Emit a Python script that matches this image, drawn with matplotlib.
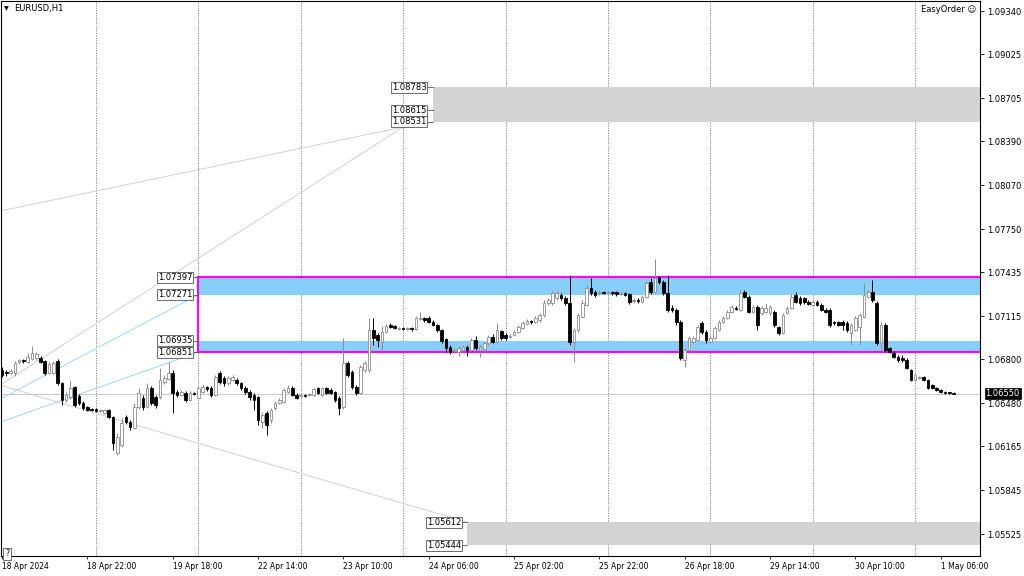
import matplotlib
matplotlib.use("Agg")
import matplotlib.pyplot as plt
from matplotlib.patches import Rectangle
import numpy as np

# ---------------- data (EURUSD H1) ----------------
opens = [
 1.06721, 1.06706, 1.06699, 1.06699, 1.06779, 1.06794, 1.06779, 1.06801, 1.06809, 1.06809,
 1.06787, 1.06699, 1.06699, 1.06787, 1.06626, 1.06502, 1.06524, 1.06597, 1.06531, 1.06480,
 1.06451, 1.06436, 1.06436, 1.06422, 1.06407, 1.06429, 1.06378, 1.06116, 1.06173, 1.06378,
 1.06341, 1.06298, 1.06451, 1.06517, 1.06451, 1.06590, 1.06524, 1.06524, 1.06633, 1.06655,
 1.06699, 1.06560, 1.06538, 1.06553, 1.06502, 1.06553, 1.06517, 1.06560, 1.06597, 1.06590,
 1.06538, 1.06699, 1.06663, 1.06626, 1.06648, 1.06648, 1.06626, 1.06590, 1.06560, 1.06538,
 1.06524, 1.06341, 1.06407, 1.06356, 1.06444, 1.06480, 1.06487, 1.06560, 1.06590, 1.06538,
 1.06531, 1.06538, 1.06538, 1.06538, 1.06590, 1.06538, 1.06590, 1.06575, 1.06560, 1.06517,
 1.06451, 1.06772, 1.06706, 1.06597, 1.06553, 1.06721, 1.06721, 1.07013, 1.06976, 1.06925,
 1.06998, 1.07049, 1.07042, 1.07020, 1.07028, 1.07020, 1.07028, 1.07020, 1.07093, 1.07101,
 1.07101, 1.07071, 1.07049, 1.07013, 1.06947, 1.06889, 1.06860, 1.06852, 1.06867, 1.06889,
 1.06867, 1.06940, 1.06867, 1.06874, 1.06918, 1.06962, 1.06925, 1.07006, 1.06976, 1.06962,
 1.06976, 1.06998, 1.07028, 1.07057, 1.07079, 1.07071, 1.07086, 1.07122, 1.07210, 1.07210,
 1.07247, 1.07268, 1.07247, 1.07210, 1.06925, 1.07013, 1.07108, 1.07195, 1.07320, 1.07290,
 1.07283, 1.07290, 1.07283, 1.07290, 1.07290, 1.07276, 1.07283, 1.07276, 1.07225, 1.07232,
 1.07217, 1.07254, 1.07363, 1.07290, 1.07400, 1.07363, 1.07283, 1.07174, 1.07159, 1.07071,
 1.06794, 1.06867, 1.06925, 1.06940, 1.07064, 1.06998, 1.06925, 1.06955, 1.07013, 1.07071,
 1.07101, 1.07144, 1.07174, 1.07159, 1.07290, 1.07254, 1.07144, 1.07181, 1.07137, 1.07144,
 1.07137, 1.07144, 1.07035, 1.06991, 1.07137, 1.07174, 1.07268, 1.07247, 1.07247, 1.07217,
 1.07195, 1.07217, 1.07195, 1.07159, 1.07159, 1.07071, 1.07071, 1.07071, 1.07064, 1.06991,
 1.07013, 1.07035, 1.07108, 1.07254, 1.07290, 1.07210, 1.06918, 1.07049, 1.06882, 1.06845,
 1.06816, 1.06809, 1.06794, 1.06721, 1.06648, 1.06663, 1.06670, 1.06648, 1.06611, 1.06590,
 1.06575, 1.06560, 1.06560, 1.06553]

highs = [
 1.06743, 1.06721, 1.06728, 1.06787, 1.06801, 1.06801, 1.06845, 1.06896, 1.06852, 1.06823,
 1.06794, 1.06779, 1.06787, 1.06801, 1.06633, 1.06560, 1.06648, 1.06604, 1.06546, 1.06495,
 1.06458, 1.06444, 1.06444, 1.06436, 1.06436, 1.06436, 1.06385, 1.06262, 1.06371, 1.06392,
 1.06356, 1.06480, 1.06590, 1.06538, 1.06626, 1.06604, 1.06538, 1.06736, 1.06684, 1.06779,
 1.06721, 1.06575, 1.06575, 1.06568, 1.06568, 1.06560, 1.06604, 1.06611, 1.06604, 1.06604,
 1.06684, 1.06714, 1.06677, 1.06677, 1.06684, 1.06663, 1.06633, 1.06604, 1.06575, 1.06553,
 1.06531, 1.06414, 1.06422, 1.06444, 1.06495, 1.06517, 1.06590, 1.06611, 1.06604, 1.06553,
 1.06546, 1.06546, 1.06553, 1.06590, 1.06597, 1.06597, 1.06597, 1.06590, 1.06568, 1.06531,
 1.06955, 1.06787, 1.06721, 1.06611, 1.06757, 1.06787, 1.07101, 1.07101, 1.06991, 1.07042,
 1.07057, 1.07064, 1.07049, 1.07035, 1.07035, 1.07035, 1.07035, 1.07115, 1.07144, 1.07108,
 1.07115, 1.07086, 1.07057, 1.07020, 1.06955, 1.06903, 1.06882, 1.06896, 1.06903, 1.06903,
 1.06955, 1.06969, 1.06903, 1.06925, 1.06976, 1.06984, 1.07064, 1.07013, 1.06991, 1.06984,
 1.07013, 1.07049, 1.07079, 1.07093, 1.07086, 1.07115, 1.07137, 1.07232, 1.07247, 1.07298,
 1.07298, 1.07283, 1.07261, 1.07414, 1.07028, 1.07137, 1.07232, 1.07341, 1.07392, 1.07305,
 1.07305, 1.07298, 1.07298, 1.07298, 1.07298, 1.07290, 1.07290, 1.07283, 1.07247, 1.07247,
 1.07268, 1.07371, 1.07392, 1.07531, 1.07407, 1.07378, 1.07414, 1.07195, 1.07174, 1.07086,
 1.06882, 1.06969, 1.06969, 1.07049, 1.07079, 1.07013, 1.06969, 1.07042, 1.07086, 1.07115,
 1.07159, 1.07195, 1.07188, 1.07305, 1.07305, 1.07268, 1.07195, 1.07195, 1.07188, 1.07203,
 1.07195, 1.07159, 1.07042, 1.07137, 1.07188, 1.07276, 1.07290, 1.07261, 1.07254, 1.07232,
 1.07232, 1.07232, 1.07210, 1.07174, 1.07174, 1.07079, 1.07079, 1.07086, 1.07079, 1.07064,
 1.07115, 1.07137, 1.07356, 1.07305, 1.07378, 1.07225, 1.07071, 1.07064, 1.06889, 1.06860,
 1.06830, 1.06830, 1.06809, 1.06728, 1.06692, 1.06677, 1.06677, 1.06655, 1.06619, 1.06597,
 1.06582, 1.06568, 1.06560, 1.06560]

lows = [
 1.06670, 1.06677, 1.06692, 1.06677, 1.06765, 1.06772, 1.06772, 1.06794, 1.06794, 1.06772,
 1.06684, 1.06692, 1.06692, 1.06611, 1.06465, 1.06487, 1.06509, 1.06451, 1.06465, 1.06429,
 1.06422, 1.06422, 1.06414, 1.06414, 1.06400, 1.06371, 1.06138, 1.06101, 1.06160, 1.06327,
 1.06283, 1.06291, 1.06436, 1.06429, 1.06444, 1.06465, 1.06444, 1.06509, 1.06619, 1.06648,
 1.06407, 1.06524, 1.06531, 1.06487, 1.06495, 1.06538, 1.06509, 1.06553, 1.06568, 1.06524,
 1.06531, 1.06619, 1.06604, 1.06611, 1.06641, 1.06611, 1.06575, 1.06546, 1.06502, 1.06429,
 1.06319, 1.06298, 1.06246, 1.06334, 1.06429, 1.06473, 1.06480, 1.06553, 1.06531, 1.06509,
 1.06524, 1.06524, 1.06531, 1.06531, 1.06546, 1.06531, 1.06546, 1.06546, 1.06487, 1.06392,
 1.06436, 1.06670, 1.06582, 1.06538, 1.06546, 1.06706, 1.06706, 1.06903, 1.06889, 1.06867,
 1.06991, 1.07028, 1.07020, 1.07013, 1.07013, 1.07013, 1.07006, 1.07013, 1.07086, 1.07071,
 1.07064, 1.07042, 1.06998, 1.06918, 1.06852, 1.06838, 1.06845, 1.06823, 1.06852, 1.06823,
 1.06860, 1.06867, 1.06816, 1.06852, 1.06903, 1.06918, 1.06918, 1.06940, 1.06940, 1.06955,
 1.06969, 1.06991, 1.07020, 1.07049, 1.07057, 1.07064, 1.07071, 1.07108, 1.07195, 1.07195,
 1.07232, 1.07232, 1.07195, 1.06903, 1.06779, 1.06998, 1.07101, 1.07188, 1.07268, 1.07254,
 1.07268, 1.07276, 1.07276, 1.07268, 1.07261, 1.07268, 1.07261, 1.07203, 1.07210, 1.07210,
 1.07210, 1.07247, 1.07276, 1.07283, 1.07349, 1.07268, 1.07144, 1.07144, 1.07049, 1.06794,
 1.06743, 1.06860, 1.06918, 1.06933, 1.06984, 1.06918, 1.06918, 1.06947, 1.07006, 1.07064,
 1.07093, 1.07137, 1.07159, 1.07152, 1.07247, 1.07137, 1.07137, 1.07013, 1.07122, 1.07137,
 1.07122, 1.07035, 1.06976, 1.06984, 1.07130, 1.07166, 1.07210, 1.07195, 1.07203, 1.07195,
 1.07188, 1.07188, 1.07152, 1.07137, 1.07035, 1.07049, 1.07042, 1.07013, 1.06998, 1.06903,
 1.07006, 1.06903, 1.07101, 1.07247, 1.07217, 1.06903, 1.06867, 1.06852, 1.06845, 1.06809,
 1.06779, 1.06779, 1.06728, 1.06641, 1.06641, 1.06655, 1.06641, 1.06582, 1.06582, 1.06568,
 1.06553, 1.06546, 1.06546, 1.06546]

closes = [
 1.06684, 1.06699, 1.06714, 1.06772, 1.06794, 1.06787, 1.06816, 1.06845, 1.06838, 1.06779,
 1.06699, 1.06765, 1.06772, 1.06626, 1.06502, 1.06538, 1.06590, 1.06465, 1.06480, 1.06444,
 1.06429, 1.06429, 1.06422, 1.06429, 1.06429, 1.06378, 1.06189, 1.06232, 1.06334, 1.06341,
 1.06305, 1.06451, 1.06553, 1.06451, 1.06590, 1.06480, 1.06465, 1.06648, 1.06663, 1.06699,
 1.06553, 1.06538, 1.06560, 1.06502, 1.06553, 1.06546, 1.06590, 1.06597, 1.06582, 1.06538,
 1.06670, 1.06633, 1.06626, 1.06663, 1.06670, 1.06626, 1.06590, 1.06560, 1.06524, 1.06502,
 1.06356, 1.06392, 1.06319, 1.06429, 1.06480, 1.06502, 1.06575, 1.06590, 1.06538, 1.06517,
 1.06538, 1.06531, 1.06546, 1.06582, 1.06553, 1.06590, 1.06553, 1.06553, 1.06502, 1.06444,
 1.06772, 1.06684, 1.06597, 1.06553, 1.06743, 1.06772, 1.07013, 1.06955, 1.06940, 1.06998,
 1.07042, 1.07035, 1.07028, 1.07028, 1.07020, 1.07028, 1.07020, 1.07101, 1.07101, 1.07086,
 1.07071, 1.07049, 1.07013, 1.06933, 1.06882, 1.06852, 1.06867, 1.06882, 1.06889, 1.06867,
 1.06940, 1.06882, 1.06889, 1.06918, 1.06962, 1.06925, 1.07013, 1.06955, 1.06955, 1.06969,
 1.06998, 1.07035, 1.07064, 1.07079, 1.07071, 1.07101, 1.07122, 1.07210, 1.07232, 1.07283,
 1.07283, 1.07247, 1.07210, 1.06925, 1.07013, 1.07122, 1.07210, 1.07320, 1.07283, 1.07268,
 1.07290, 1.07283, 1.07290, 1.07283, 1.07276, 1.07283, 1.07268, 1.07217, 1.07232, 1.07225,
 1.07254, 1.07356, 1.07290, 1.07392, 1.07363, 1.07283, 1.07159, 1.07159, 1.07071, 1.06809,
 1.06867, 1.06955, 1.06955, 1.07035, 1.06998, 1.06940, 1.06955, 1.07028, 1.07071, 1.07101,
 1.07144, 1.07181, 1.07166, 1.07283, 1.07254, 1.07144, 1.07181, 1.07049, 1.07174, 1.07174,
 1.07181, 1.07049, 1.06991, 1.07122, 1.07174, 1.07254, 1.07217, 1.07210, 1.07217, 1.07203,
 1.07217, 1.07195, 1.07159, 1.07144, 1.07049, 1.07064, 1.07049, 1.07049, 1.07013, 1.07049,
 1.07101, 1.07122, 1.07268, 1.07290, 1.07232, 1.06918, 1.07049, 1.06867, 1.06852, 1.06816,
 1.06794, 1.06794, 1.06736, 1.06648, 1.06684, 1.06670, 1.06648, 1.06590, 1.06590, 1.06575,
 1.06560, 1.06553, 1.06553, 1.06550]

time_labels = ["18 Apr 2024", "18 Apr 22:00", "19 Apr 18:00", "22 Apr 14:00",
               "23 Apr 10:00", "24 Apr 06:00", "25 Apr 02:00", "25 Apr 22:00",
               "26 Apr 18:00", "29 Apr 14:00", "30 Apr 10:00", "1 May 06:00"]
label_every = 20
price_ticks = [1.09340, 1.09025, 1.08705, 1.08390, 1.08070, 1.07750, 1.07435,
               1.07115, 1.06800, 1.06480, 1.06165, 1.05845, 1.05525]

zone_upper = [1.07397, 1.07271]       # blue band (top of range)
zone_lower = [1.06935, 1.06851]       # blue band (bottom of range)
gray_upper = [1.08783, 1.08615, 1.08531]
gray_lower = [1.05612, 1.05444]
last_price = 1.06550

# trend lines: (bar index, price) pairs
gray_lines = [((-0.5, 1.07881), (94, 1.08494)),
              ((-0.5, 1.06611), (94, 1.08494)),
              ((-0.5, 1.06611), (109, 1.05612))]
blue_lines = [((-0.5, 1.06509), (46, 1.07271)),
              ((-0.5, 1.06341), (46, 1.06851))]

# ---------------- figure ----------------
plt.rcParams['font.family'] = ['DejaVu Sans']
W, H = 1024, 576
fig = plt.figure(figsize=(W / 100, H / 100), dpi=100)
fig.patch.set_facecolor('white')
ax = fig.add_axes([1 / W, 20 / H, 979 / W, 555 / H])
ax.set_facecolor('white')

n = len(closes)
idx = np.arange(n)
o = np.array(opens); h = np.array(highs); l = np.array(lows); c = np.array(closes)

ax.set_xlim(-0.26, 229.2)
ax.set_ylim(1.05365, 1.09413)

# vertical dotted grid
for g in range(22, n, 24):
    ax.axvline(g, color='#7a7a7a', lw=0.6, ls=(0, (1.5, 1.5)), zorder=0.5)

BIG = 400
# gray zones
ax.add_patch(Rectangle((101, gray_upper[2]), BIG, gray_upper[0] - gray_upper[2],
                       fc='#d3d3d3', ec='none', zorder=1))
ax.add_patch(Rectangle((109, gray_lower[1]), BIG, gray_lower[0] - gray_lower[1],
                       fc='#d3d3d3', ec='none', zorder=1))
# blue zones
ax.add_patch(Rectangle((46, zone_upper[1]), BIG, zone_upper[0] - zone_upper[1],
                       fc='#87cefa', ec='none', zorder=1))
ax.add_patch(Rectangle((46, zone_lower[1]), BIG, zone_lower[0] - zone_lower[1],
                       fc='#87cefa', ec='none', zorder=1))
# magenta range box
ax.add_patch(Rectangle((46, zone_lower[1]), BIG, zone_upper[0] - zone_lower[1],
                       fill=False, ec='#ff00ff', lw=1.5, zorder=2.5))

# trend lines
for (x0, y0), (x1, y1) in gray_lines:
    ax.plot([x0, x1], [y0, y1], color='#d0d0d0', lw=0.7, zorder=1.5)
for (x0, y0), (x1, y1) in blue_lines:
    ax.plot([x0, x1], [y0, y1], color='#9fd4f7', lw=0.7, zorder=1.5)

# last price line
ax.axhline(last_price, color='#c8c8c8', lw=0.7, zorder=1.2)

# candles
bull = c >= o
wick_col = np.where(bull, '#8c8c8c', '#000000')
ax.vlines(idx, l, h, colors=wick_col, lw=0.7, zorder=3)
body_bottom = np.minimum(o, c)
body_h = np.maximum(np.abs(c - o), 0.00004)
ax.bar(idx[bull], body_h[bull], bottom=body_bottom[bull], width=0.62,
       color='white', edgecolor='#8c8c8c', linewidth=0.6, zorder=4)
ax.bar(idx[~bull], body_h[~bull], bottom=body_bottom[~bull], width=0.62,
       color='black', edgecolor='black', linewidth=0.6, zorder=4)

# price labels of objects
def price_label(x_right, x_edge, p):
    ax.plot([x_right, x_edge], [p, p], color='#555555', lw=0.6, zorder=5)
    ax.text(x_right - 0.25, p, f"{p:.5f}", ha='right', va='center', fontsize=6,
            color='black', zorder=6,
            bbox=dict(boxstyle='square,pad=0.12', fc='white', ec='#555555', lw=0.6))

for p in zone_upper + zone_lower:
    price_label(44.8, 46, p)
for p in gray_upper:
    price_label(99.7, 101, p)
for p in gray_lower:
    price_label(107.8, 109, p)

# axes styling
for s in ax.spines.values():
    s.set_color('black'); s.set_linewidth(0.8)
ax.yaxis.tick_right()
ax.set_yticks(price_ticks)
ax.set_yticklabels([f"{p:.5f}" for p in price_ticks])
ax.tick_params(axis='y', direction='out', length=3, width=0.6, pad=2,
               labelsize=6, colors='black')
xt = np.arange(0, label_every * len(time_labels), label_every)
ax.set_xticks(xt)
ax.set_xticklabels(time_labels, ha='left')
ax.tick_params(axis='x', direction='out', length=2, width=0.6, pad=2.5,
               labelsize=5.5, colors='black')

# current price box
ax.annotate(f"{last_price:.5f}", xy=(1.0, last_price),
            xycoords=('axes fraction', 'data'), xytext=(4, 0),
            textcoords='offset points', ha='left', va='center', fontsize=6,
            color='white', zorder=10, annotation_clip=False,
            bbox=dict(boxstyle='square,pad=0.12', fc='black', ec='black', lw=0.5))

# header texts
fig.text(4 / W, 1 - 8.5 / H, '\u25bc', fontsize=4.5, va='center', ha='left')
fig.text(14 / W, 1 - 9 / H, 'EURUSD,H1', fontsize=6, va='center', ha='left')
fig.text(976 / W, 1 - 9 / H, 'EasyOrder \u263a', fontsize=6, va='center', ha='right')
fig.text(7 / W, 1 - 554 / H, '?', fontsize=5.5, va='center', ha='center',
         bbox=dict(boxstyle='square,pad=0.2', fc='white', ec='#555555', lw=0.6))

fig.savefig('out.png', dpi=100, facecolor='white')
